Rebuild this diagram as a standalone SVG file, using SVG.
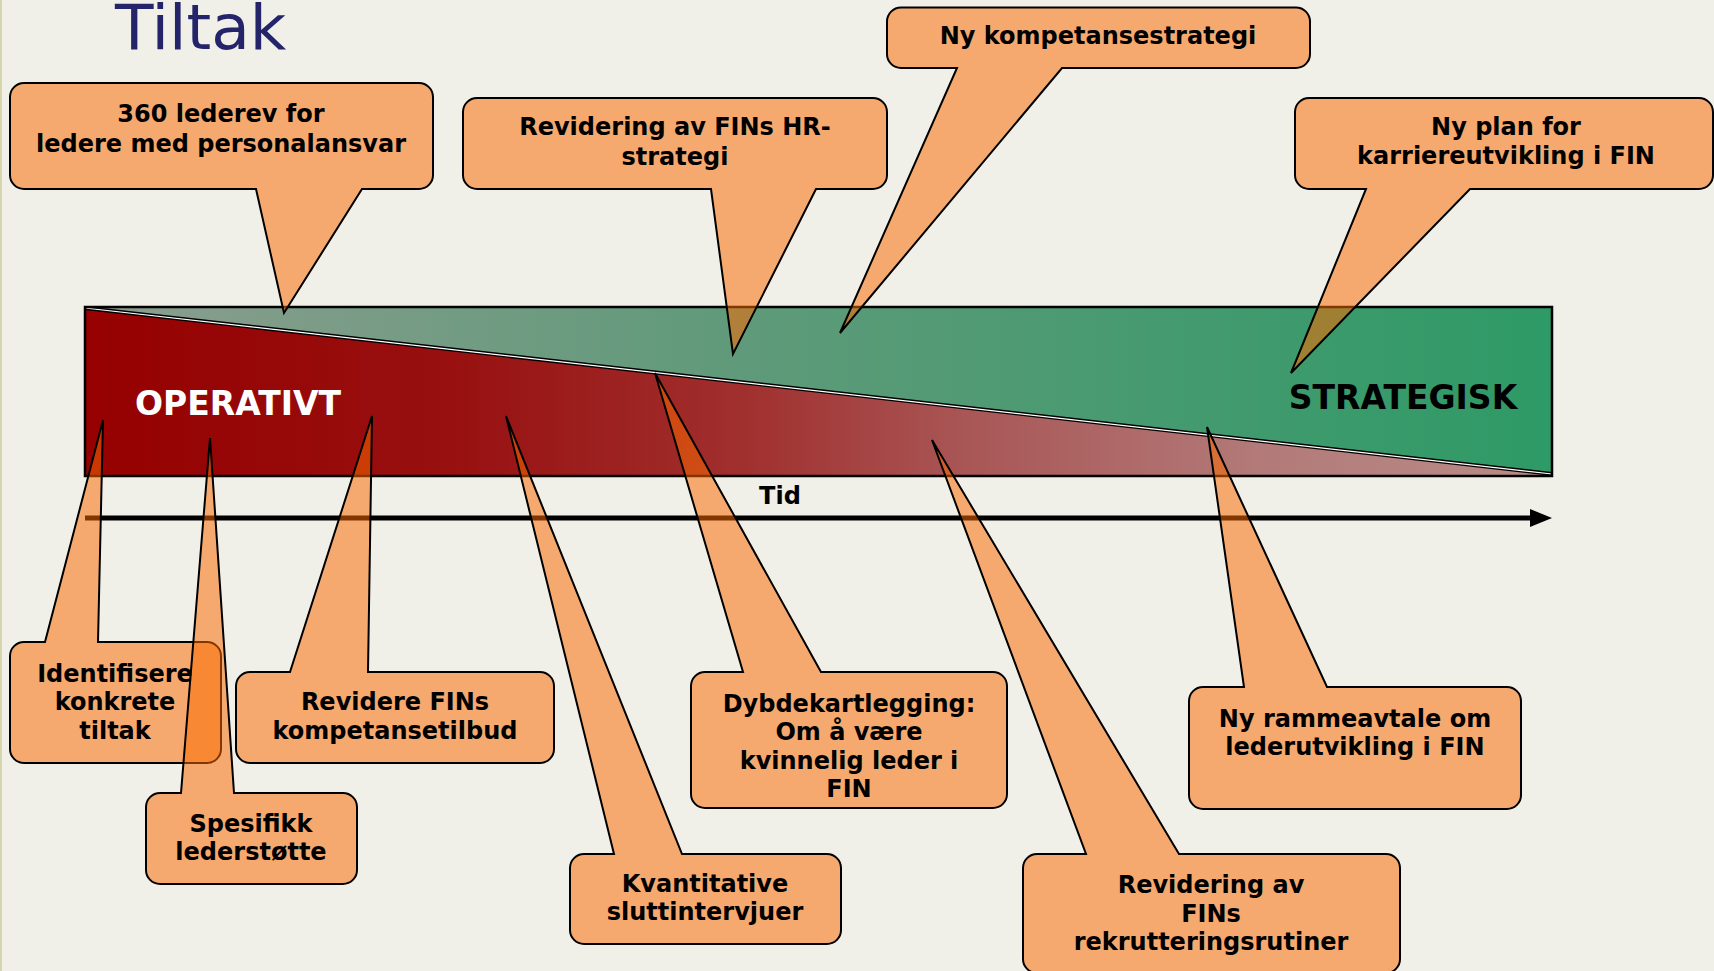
<svg xmlns="http://www.w3.org/2000/svg" width="1714" height="971" viewBox="0 0 1714 971">
<defs>
<linearGradient id="gGreen" gradientUnits="userSpaceOnUse" x1="85" y1="0" x2="1552" y2="0">
<stop offset="0" stop-color="#8c9d8f"/>
<stop offset="0.45" stop-color="#5f9a7a"/>
<stop offset="1" stop-color="#2e9a66"/>
</linearGradient>
<linearGradient id="gRed" gradientUnits="userSpaceOnUse" x1="85" y1="0" x2="1552" y2="0">
<stop offset="0" stop-color="#960000"/>
<stop offset="0.25" stop-color="#981010"/>
<stop offset="0.45" stop-color="#a0302e"/>
<stop offset="0.6" stop-color="#a95656"/>
<stop offset="0.8" stop-color="#b27a78"/>
<stop offset="1" stop-color="#ba8c88"/>
</linearGradient>
<style>
.co{fill:#fb6a00;fill-opacity:0.52;stroke:#000;stroke-width:2;stroke-linejoin:miter}
.t{font-family:"DejaVu Sans","Verdana",sans-serif;font-weight:bold;font-size:24px;fill:#000;text-anchor:middle}
.big{font-family:"DejaVu Sans","Verdana",sans-serif;font-weight:bold;font-size:33px;text-anchor:middle}
</style>
</defs>
<rect x="0" y="0" width="1714" height="971" fill="#f0efe8"/>
<rect x="0" y="0" width="2" height="971" fill="#d6d6ac"/>
<text x="115" y="49" font-family="DejaVu Sans, Verdana, sans-serif" font-size="63" fill="#24246b">Tiltak</text>

<g id="band">
<polygon points="85,307 1552,307 1552,474" fill="url(#gGreen)"/>
<polygon points="85,309 1552,475 1552,476 85,476" fill="url(#gRed)"/>
<line x1="85" y1="308" x2="1552" y2="474" stroke="#000" stroke-width="4"/>
<line x1="85" y1="308" x2="1552" y2="474" stroke="#fff" stroke-width="1.2"/>
<rect x="85" y="307" width="1467" height="169" fill="none" stroke="#000" stroke-width="2.5"/>
<text class="big" x="238" y="415" fill="#fff">OPERATIVT</text>
<text class="big" x="1403" y="409" fill="#000">STRATEGISK</text>
</g>

<g id="timeline">
<line x1="85" y1="518" x2="1534" y2="518" stroke="#000" stroke-width="5"/>
<polygon points="1530,509 1552,518 1530,527" fill="#000"/>
<text class="t" x="780" y="504">Tid</text>
</g>

<g id="connectors"></g>

<g id="n-360">
<path class="co" d="M24,83 H419 A14,14 0 0 1 433,97 V175 A14,14 0 0 1 419,189 H362 L284,313 L256,189 H24 A14,14 0 0 1 10,175 V97 A14,14 0 0 1 24,83 Z"/>
<text class="t" x="221" y="122">360 lederev for</text>
<text class="t" x="221" y="152">ledere med personalansvar</text>
</g>
<g id="n-hrstrategi">
<path class="co" d="M477,98 H873 A14,14 0 0 1 887,112 V175 A14,14 0 0 1 873,189 H816 L733,354 L711,189 H477 A14,14 0 0 1 463,175 V112 A14,14 0 0 1 477,98 Z"/>
<text class="t" x="675" y="135">Revidering av FINs HR-</text>
<text class="t" x="675" y="165">strategi</text>
</g>
<g id="n-kompetansestrategi">
<path class="co" d="M901,7.5 H1296 A14,14 0 0 1 1310,21.5 V54 A14,14 0 0 1 1296,68 H1062 L840,333 L957,68 H901 A14,14 0 0 1 887,54 V21.5 A14,14 0 0 1 901,7.5 Z"/>
<text class="t" x="1098" y="44">Ny kompetansestrategi</text>
</g>
<g id="n-karriere">
<path class="co" d="M1309,98 H1699 A14,14 0 0 1 1713,112 V175 A14,14 0 0 1 1699,189 H1470 L1291,373 L1366,189 H1309 A14,14 0 0 1 1295,175 V112 A14,14 0 0 1 1309,98 Z"/>
<text class="t" x="1506" y="135">Ny plan for</text>
<text class="t" x="1506" y="164">karriereutvikling i FIN</text>
</g>

<g id="n-identifisere">
<path class="co" d="M24,642 H45 L103,420 L98,642 H207 A14,14 0 0 1 221,656 V749 A14,14 0 0 1 207,763 H24 A14,14 0 0 1 10,749 V656 A14,14 0 0 1 24,642 Z"/>
<text class="t" x="115" y="682">Identifisere</text>
<text class="t" x="115" y="710">konkrete</text>
<text class="t" x="115" y="739">tiltak</text>
</g>
<g id="n-spesifikk">
<path class="co" d="M160,793 H181 L210,438 L234,793 H343 A14,14 0 0 1 357,807 V870 A14,14 0 0 1 343,884 H160 A14,14 0 0 1 146,870 V807 A14,14 0 0 1 160,793 Z"/>
<text class="t" x="251" y="832">Spesifikk</text>
<text class="t" x="251" y="860">lederstøtte</text>
</g>
<g id="n-revidere">
<path class="co" d="M250,672 H290 L372,416 L368,672 H540 A14,14 0 0 1 554,686 V749 A14,14 0 0 1 540,763 H250 A14,14 0 0 1 236,749 V686 A14,14 0 0 1 250,672 Z"/>
<text class="t" x="395" y="710">Revidere FINs</text>
<text class="t" x="395" y="739">kompetansetilbud</text>
</g>
<g id="n-kvantitative">
<path class="co" d="M584,854 H614 L506,416 L682,854 H827 A14,14 0 0 1 841,868 V930 A14,14 0 0 1 827,944 H584 A14,14 0 0 1 570,930 V868 A14,14 0 0 1 584,854 Z"/>
<text class="t" x="705" y="892">Kvantitative</text>
<text class="t" x="705" y="920">sluttintervjuer</text>
</g>
<g id="n-dybde">
<path class="co" d="M705,672 H743 L655,373 L821,672 H993 A14,14 0 0 1 1007,686 V794 A14,14 0 0 1 993,808 H705 A14,14 0 0 1 691,794 V686 A14,14 0 0 1 705,672 Z"/>
<text class="t" x="849" y="712">Dybdekartlegging:</text>
<text class="t" x="849" y="740">Om å være</text>
<text class="t" x="849" y="769">kvinnelig leder i</text>
<text class="t" x="849" y="797">FIN</text>
</g>
<g id="n-rekruttering">
<path class="co" d="M1037,854 H1086 L932,440 L1179,854 H1386 A14,14 0 0 1 1400,868 V959 A14,14 0 0 1 1386,973 H1037 A14,14 0 0 1 1023,959 V868 A14,14 0 0 1 1037,854 Z"/>
<text class="t" x="1211" y="893">Revidering av</text>
<text class="t" x="1211" y="922">FINs</text>
<text class="t" x="1211" y="950">rekrutteringsrutiner</text>
</g>
<g id="n-rammeavtale">
<path class="co" d="M1203,687 H1244 L1207,427 L1327,687 H1507 A14,14 0 0 1 1521,701 V795 A14,14 0 0 1 1507,809 H1203 A14,14 0 0 1 1189,795 V701 A14,14 0 0 1 1203,687 Z"/>
<text class="t" x="1355" y="727">Ny rammeavtale om</text>
<text class="t" x="1355" y="755">lederutvikling i FIN</text>
</g>
</svg>
